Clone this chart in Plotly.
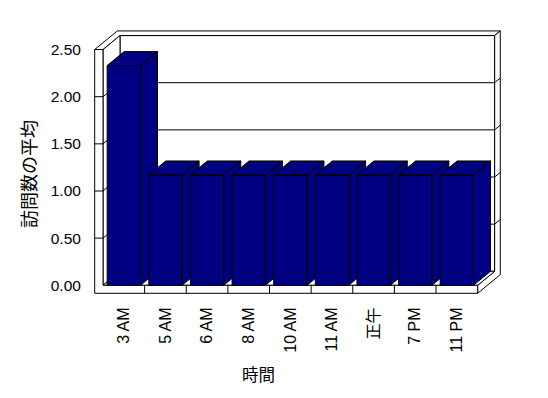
import plotly.graph_objects as go

# ---- data ----
categories = ["3 AM", "5 AM", "6 AM", "8 AM", "10 AM", "11 AM", "正午", "7 PM", "11 PM"]
avg_visits = [2.33, 1.17, 1.17, 1.17, 1.17, 1.17, 1.17, 1.17, 1.17]
y_tick_values = [0.0, 0.5, 1.0, 1.5, 2.0, 2.5]
x_title = "時間"
y_title = "訪問数の平均"

# ---- 3D-look geometry (in axis data units) ----
DX, DY = 0.4084, 0.1485      # depth offset of the chart box
TW = 0.1994                  # left wall thickness
TF = 0.0848                  # floor thickness
BACK = 0.33                  # back wall thickness (fraction of depth)
BAR_W = 0.8
NAVY = "#000080"

n = len(categories)
ytop = y_tick_values[-1]


def P(x, y, z):
    return (x + z * DX, y + z * DY)


def faces_to_xy(faces):
    xs, ys = [], []
    for f in faces:
        pts = list(f) + [f[0]]
        for (a, b) in pts:
            xs.append(a)
            ys.append(b)
        xs.append(None)
        ys.append(None)
    return xs, ys


fig = go.Figure()


def add_faces(faces, fill):
    xs, ys = faces_to_xy(faces)
    fig.add_trace(go.Scatter(x=xs, y=ys, mode="lines", fill="toself", fillcolor=fill,
                             line=dict(color="black", width=1), hoverinfo="skip",
                             showlegend=False))


def add_lines(segs):
    xs, ys = [], []
    for s in segs:
        for (a, b) in s:
            xs.append(a)
            ys.append(b)
        xs.append(None)
        ys.append(None)
    fig.add_trace(go.Scatter(x=xs, y=ys, mode="lines", line=dict(color="black", width=1),
                             hoverinfo="skip", showlegend=False))


# back wall front face
add_faces([[P(0, 0, 1), P(n, 0, 1), P(n, ytop, 1), P(0, ytop, 1)]], "white")
# top faces of walls
add_faces([[P(-TW, ytop, 0), P(0, ytop, 0), P(0, ytop, 1), P(n, ytop, 1),
            P(n, ytop, 1 + BACK), P(-TW, ytop, 1 + BACK)]], "white")
# right side of floor + back wall
add_faces([[P(n, -TF, 0), P(n, 0, 0), P(n, 0, 1), P(n, ytop, 1),
            P(n, ytop, 1 + BACK), P(n, -TF, 1 + BACK)]], "white")
# left wall inner face
add_faces([[P(0, 0, 0), P(0, ytop, 0), P(0, ytop, 1), P(0, 0, 1)]], "white")
# floor top face
add_faces([[P(0, 0, 0), P(n, 0, 0), P(n, 0, 1), P(0, 0, 1)]], "white")
# front faces (left wall + floor)
add_faces([[P(-TW, ytop, 0), P(0, ytop, 0), P(0, 0, 0), P(n, 0, 0),
            P(n, -TF, 0), P(-TW, -TF, 0)]], "white")

# gridlines and ticks
segs = []
for v in y_tick_values[1:-1]:
    segs.append([P(-TW, v, 0), P(0, v, 0), P(0, v, 1), P(n, v, 1), P(n, v, 1 + BACK)])
for k in range(1, n):
    segs.append([P(k, -TF, 0), P(k, 0, 0)])
add_lines(segs)

# bars
for i, v in enumerate(avg_visits):
    x0 = i + (1 - BAR_W) / 2
    x1 = x0 + BAR_W
    front = [P(x0, 0, 0), P(x1, 0, 0), P(x1, v, 0), P(x0, v, 0)]
    side = [P(x1, 0, 0), P(x1, 0, 1), P(x1, v, 1), P(x1, v, 0)]
    top = [P(x0, v, 0), P(x1, v, 0), P(x1, v, 1), P(x0, v, 1)]
    add_faces([side, top, front], NAVY)

L, R, T, B = 92, 44, 27, 102
W, H = 548, 398
sx = 41.63
sy = 94.3
ox, oy = 103, 285.3

fig.update_layout(
    width=W, height=H,
    margin=dict(l=L, r=R, t=T, b=B),
    paper_bgcolor="white", plot_bgcolor="white",
    font=dict(family="Liberation Sans, Arial, Noto Sans CJK JP", color="black"),
    xaxis=dict(range=[(L - ox) / sx, (W - R - ox) / sx],
               tickvals=[i + 0.5 for i in range(n)], ticktext=categories,
               tickangle=-90, ticks="outside", ticklen=4, tickcolor="rgba(0,0,0,0)",
               tickfont=dict(size=16), showgrid=False, zeroline=False, showline=False,
               fixedrange=True),
    yaxis=dict(range=[(oy - (H - B)) / sy, (oy - T) / sy],
               tickvals=y_tick_values, tickformat=".2f",
               ticks="outside", ticklen=7, tickcolor="rgba(0,0,0,0)",
               tickfont=dict(size=15.5), showgrid=False, zeroline=False, showline=False,
               fixedrange=True),
    annotations=[
        dict(text=x_title, xref="paper", yref="paper",
             x=(258 - L) / (W - L - R), y=((H - B) - 374) / (H - T - B),
             xanchor="center", yanchor="middle",
             showarrow=False, font=dict(size=16.5, family="Noto Sans CJK JP")),
        dict(text=y_title, xref="paper", yref="paper", textangle=-90,
             x=(28 - L) / (W - L - R), y=((H - B) - 174) / (H - T - B),
             xanchor="center", yanchor="middle",
             showarrow=False, font=dict(size=18, family="Noto Sans CJK JP")),
    ],
)

fig.write_html("out.html", config={"displayModeBar": False})
